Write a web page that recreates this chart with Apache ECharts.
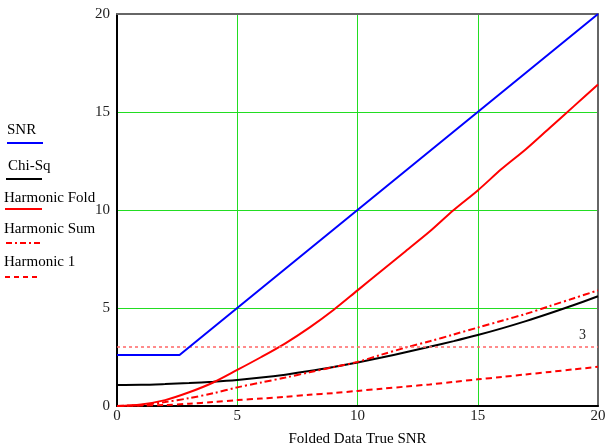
<!DOCTYPE html>
<html><head><meta charset="utf-8">
<script src="https://cdn.jsdelivr.net/npm/echarts@6/dist/echarts.min.js"></script>
<style>html,body{margin:0;padding:0;background:#fff}#c{width:606px;height:446px}</style>
</head><body><div id="c"></div>
<script>
const xs = [0,1,2,3,4,5,6,7,8,9,10,11,12,13,14,15,16,17,18,19,20];
const snrX = [0, 2.6, 20];
const snrY = [2.6, 2.6, 20];
const chiSq = [1.07,1.08,1.12,1.17,1.24,1.33,1.45,1.6,1.78,1.99,2.22,2.47,2.74,3.02,3.31,3.62,3.96,4.33,4.73,5.15,5.6];
const harmFold = [0,0.08,0.3,0.7,1.2,1.84,2.5,3.2,4.0,4.9,5.9,6.9,7.9,8.9,10.0,11.0,12.1,13.1,14.2,15.3,16.4];
const harmSum = [0,0.05,0.2,0.4,0.65,0.95,1.2,1.45,1.72,1.98,2.25,2.62,2.98,3.3,3.65,4.0,4.35,4.7,5.1,5.5,5.9];
const harm1 = [0,0.02,0.05,0.12,0.2,0.3,0.38,0.47,0.57,0.66,0.77,0.88,0.99,1.1,1.23,1.36,1.48,1.61,1.74,1.87,2.0];
const refLevel = 3;
const legendNames = ['SNR','Chi-Sq','Harmonic Fold','Harmonic Sum','Harmonic 1'];
const xTitle = 'Folded Data True SNR';

const pair = (a, b) => a.map((x, i) => [x, b[i]]);
const font = 'Liberation Serif, Times New Roman, serif';
const legendStyles = [
  {color:'#0000ff', dash:null, tx:7, x1:7, x2:43},
  {color:'#000000', dash:null, tx:8, x1:6, x2:42},
  {color:'#ff0000', dash:null, tx:4, x1:5, x2:42},
  {color:'#ff0000', dash:[6,3,2,3], tx:4, x1:6, x2:40},
  {color:'#ff0000', dash:[5,4], tx:4, x1:5, x2:39}
];
const legendTextY = [130, 166, 198, 229, 262];
const legendLineY = [143, 179, 209, 243, 277];
const graphics = [];
legendNames.forEach((n, i) => {
  const s = legendStyles[i];
  graphics.push({type:'text', x: s.tx, y: legendTextY[i], style:{text:n, font:'15px ' + font, fill:'#000', verticalAlign:'middle'}});
  graphics.push({type:'line', shape:{x1:s.x1, y1:legendLineY[i], x2:s.x2, y2:legendLineY[i]},
    style:{stroke:s.color, lineWidth:2, lineDash:s.dash}});
});

const chart = echarts.init(document.getElementById('c'));
chart.setOption({
  animation:false,
  grid:{left:117, top:14, width:481, height:392, outerBoundsMode:'none', containLabel:false},
  xAxis:[{type:'value', min:0, max:20, interval:5,
    name:xTitle, nameLocation:'middle', nameGap:26, nameTextStyle:{fontFamily:font, fontSize:15, color:'#000'},
    axisLine:{show:true, onZero:false, lineStyle:{color:'#000', width:2}},
    axisTick:{show:false},
    axisLabel:{fontFamily:font, fontSize:15, color:'#222', margin:3},
    splitLine:{show:true, lineStyle:{color:'#22dd22', width:1}}},
    {type:'value', position:'top', min:0, max:20, interval:5,
    axisLine:{show:true, onZero:false, lineStyle:{color:'#666', width:2}},
    axisTick:{show:false}, axisLabel:{show:false}, splitLine:{show:false}}],
  yAxis:[{type:'value', min:0, max:20, interval:5,
    axisLine:{show:true, onZero:false, lineStyle:{color:'#000', width:2}},
    axisTick:{show:false},
    axisLabel:{fontFamily:font, fontSize:15, color:'#222', margin:7},
    splitLine:{show:true, lineStyle:{color:'#22dd22', width:1}}},
    {type:'value', position:'right', min:0, max:20, interval:5,
    axisLine:{show:true, onZero:false, lineStyle:{color:'#666', width:2}},
    axisTick:{show:false}, axisLabel:{show:false}, splitLine:{show:false}}],
  graphic:graphics,
  series:[
    {name:'SNR', type:'line', data:pair(snrX, snrY), showSymbol:false, lineStyle:{color:'#0000ff', width:2}, z:5},
    {name:'Chi-Sq', type:'line', data:pair(xs, chiSq), smooth:0.3, showSymbol:false, lineStyle:{color:'#000', width:2}, z:4},
    {name:'Harmonic Fold', type:'line', data:pair(xs, harmFold), smooth:0.3, showSymbol:false, lineStyle:{color:'#ff0000', width:2}, z:4},
    {name:'Harmonic Sum', type:'line', data:pair(xs, harmSum), smooth:0.3, showSymbol:false, lineStyle:{color:'#ff0000', width:2, type:[7,3,2,3]}, z:4},
    {name:'Harmonic 1', type:'line', data:pair(xs, harm1), smooth:0.3, showSymbol:false, lineStyle:{color:'#ff0000', width:2, type:[6,4]}, z:4,
      markLine:{silent:true, symbol:'none', data:[{yAxis:refLevel}],
        lineStyle:{color:'#ff6666', width:1.5, type:[3,3]},
        label:{show:true, position:'insideEndTop', formatter:String(refLevel), fontFamily:font, fontSize:14, color:'#222', distance:[12,5]}}}
  ]
});
</script></body></html>
